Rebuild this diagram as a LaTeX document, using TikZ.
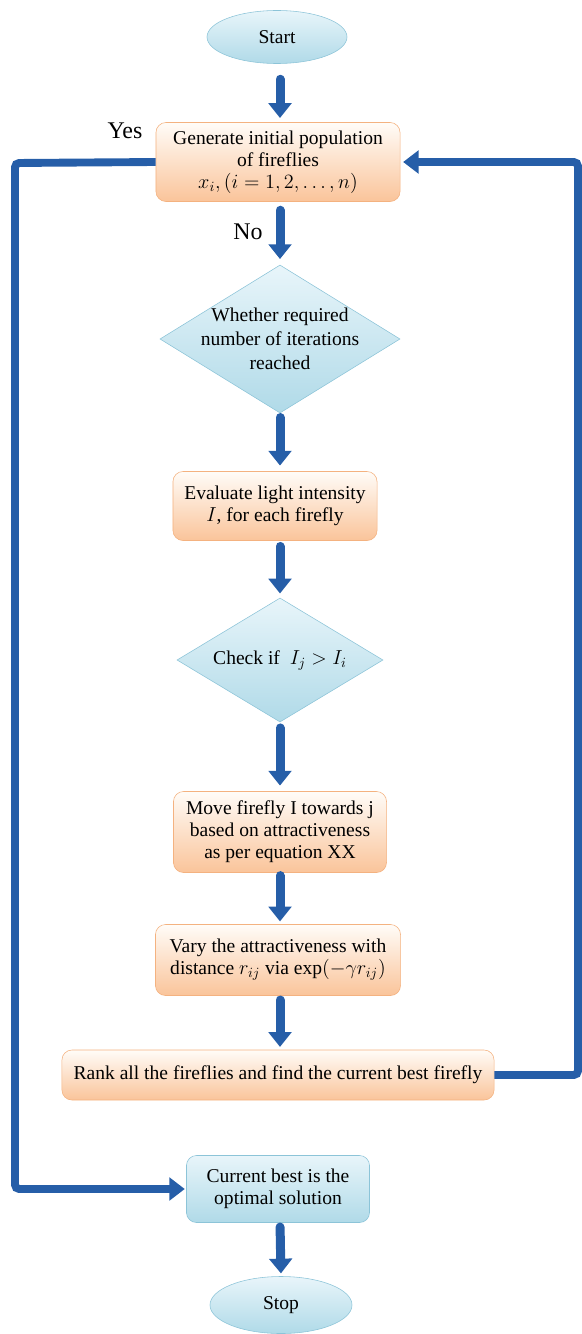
\documentclass[tikz,border=0pt]{standalone}
\usepackage{fontspec}
\setmainfont{Liberation Serif}
\usepackage{amsmath}
\usepackage{tikz}
\usetikzlibrary{arrows.meta,positioning,shapes.geometric,calc}
\definecolor{flowblue}{RGB}{38,94,168}
\definecolor{termfill}{RGB}{176,218,232}
\definecolor{termtop}{RGB}{232,245,250}
\definecolor{termline}{RGB}{140,196,216}
\definecolor{procfill}{RGB}{250,196,154}
\definecolor{proctop}{RGB}{255,252,248}
\definecolor{procline}{RGB}{244,178,128}

\tikzset{
  base/.style={font=\fontsize{13.9}{15.6}\selectfont, align=center, inner sep=2pt},
  term/.style={base, ellipse, draw=termline, top color=termtop, bottom color=termfill},
  proc/.style={base, rectangle, rounded corners=0.25cm, draw=procline, top color=proctop, bottom color=procfill},
  result/.style={base, rectangle, rounded corners=0.25cm, draw=termline, top color=termtop, bottom color=termfill},
  test/.style={base, font=\fontsize{13.9}{17}\selectfont, diamond, shape aspect=1.65, inner xsep=-7pt, inner ysep=-6pt, draw=termline, top color=termtop, bottom color=termfill},
  flow/.style={draw=flowblue, line width=6.4pt, line cap=round, -{Triangle[length=10.5pt,width=16pt]}},
  loopline/.style={draw=flowblue, line width=5.6pt, rounded corners=3pt, -{Triangle[length=11pt,width=16pt]}},
  tag/.style={font=\fontsize{17}{19}\selectfont}
}

\begin{document}
\begin{tikzpicture}[x=0.025cm,y=-0.025cm]
    \useasboundingbox (0,0) rectangle (581,1334);
    % terminals and steps
    \node[term, minimum width=3.5cm, minimum height=1.325cm] (start) at (277,37) {Start};
    \node[proc, minimum width=6.1cm, minimum height=1.975cm] (gen) at (278,162)
        {Generate initial population\\ of fireflies\\ $x_i,(i=1,2,\ldots,n)$};
    \node[test, minimum width=6cm, minimum height=3.7cm] (iter) at (280,339)
        {Whether required\\ number of iterations\\ reached};
    \node[proc, minimum width=5.1cm, minimum height=1.725cm] (eval) at (275,506)
        {Evaluate light intensity\\ $I$, for each firefly};
    \node[test, minimum width=5.15cm, minimum height=3.1cm] (check) at (280,660)
        {Check if \ $I_j>I_i$};
    \node[proc, minimum width=5.325cm, minimum height=2.025cm] (move) at (280,832)
        {Move firefly I towards j\\ based on attractiveness\\ as per equation XX};
    \node[proc, minimum width=6.125cm, minimum height=1.775cm] (vary) at (278,960)
        {Vary the attractiveness with\\ distance $r_{ij}$ via $\exp(-\gamma r_{ij})$};
    \node[proc, minimum width=10.8cm, minimum height=1.25cm] (rank) at (278,1075)
        {Rank all the fireflies and find the current best firefly};
    \node[result, minimum width=4.575cm, minimum height=1.675cm] (best) at (278,1189)
        {Current best is the\\ optimal solution};
    \node[term, minimum width=3.55cm, minimum height=1.425cm] (stop) at (281,1305) {Stop};
    % labels
    \node[tag] (yes) at (125,131) {Yes};
    \node[tag] (no) at (248,232) {No};
    % main flow
    \draw[flow, shorten <=11pt, shorten >=3pt] (start.south -| 280,0) -- (gen.north -| 280,0);
    \draw[flow, shorten <=6pt, shorten >=4pt] (gen.south -| 280,0) -- (iter.north);
    \draw[flow, shorten <=3pt, shorten >=4pt] (iter.south) -- (eval.north -| 280,0);
    \draw[flow, shorten <=4pt, shorten >=3pt] (eval.south -| 280,0) -- (check.north);
    \draw[flow, shorten <=4pt, shorten >=4pt] (check.south) -- (move.north);
    \draw[flow, shorten <=2pt, shorten >=2pt] (move.south) -- (vary.north -| 280,0);
    \draw[flow, shorten <=3pt, shorten >=2pt] (vary.south -| 280,0) -- (rank.north -| 280,0);
    \draw[flow, shorten <=3pt, shorten >=2pt] (best.south -| 280,0) -- (stop.north);
    % loops
    \coordinate (rturn) at (578,1075);
    \coordinate (lturn) at (15,163);
    \draw[loopline, shorten >=2pt] (rank.east) -- (rturn) |- (gen.east);
    \draw[loopline, shorten >=1pt] (gen.west) -- (lturn) |- (best.west);
\end{tikzpicture}
\end{document}
